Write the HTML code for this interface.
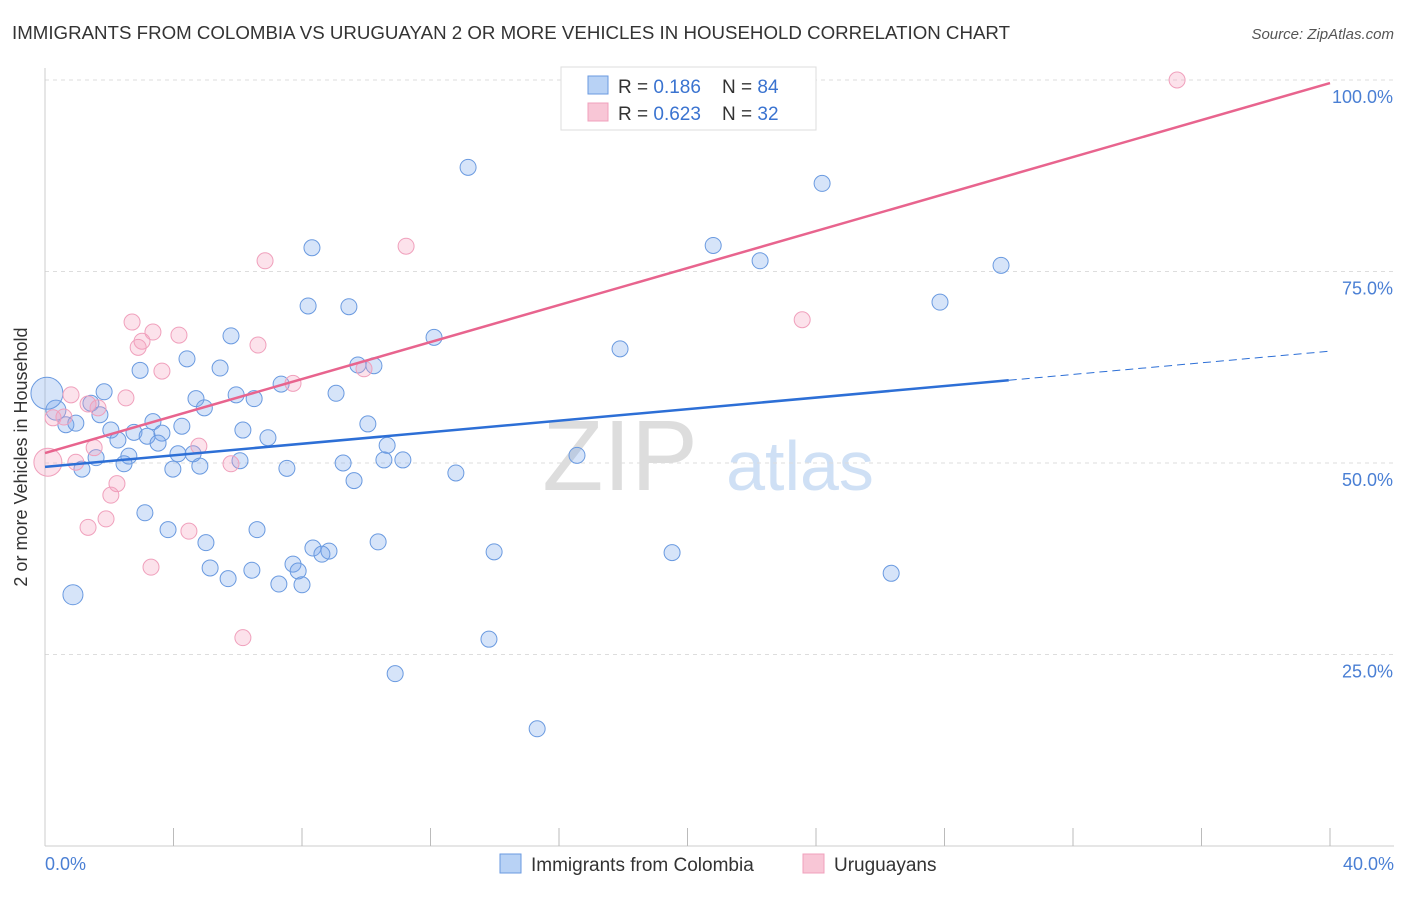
<!DOCTYPE html>
<html><head><meta charset="utf-8"><style>
body{margin:0;background:#fff;font-family:"Liberation Sans",sans-serif;}
svg text{font-family:"Liberation Sans",sans-serif;}
</style></head><body>
<svg id="chart" width="1406" height="892">
<text x="12" y="39" font-size="18" fill="#333" textLength="998" lengthAdjust="spacingAndGlyphs">IMMIGRANTS FROM COLOMBIA VS URUGUAYAN 2 OR MORE VEHICLES IN HOUSEHOLD CORRELATION CHART</text>
<text x="1394" y="39" font-size="15" fill="#555" font-style="italic" text-anchor="end">Source: ZipAtlas.com</text>
<text x="620" y="490" font-size="100" fill="#ddd" font-family="Liberation Serif" text-anchor="middle">ZIP</text>
<text x="800" y="490" font-size="70" fill="#cfe0f5" text-anchor="middle">atlas</text>
<g id="grid"></g>
<line x1="45" y1="68" x2="45" y2="846" stroke="#ccc"/>
<line x1="45" y1="846" x2="1394" y2="846" stroke="#ccc"/>
<g id="ticks"></g>
<text x="27" y="457" font-size="18" fill="#333" text-anchor="middle" transform="rotate(-90 27 457)">2 or more Vehicles in Household</text>
<text x="45" y="870" font-size="18" fill="#4a7fd4">0.0%</text>
<text x="1394" y="870" font-size="18" fill="#4a7fd4" text-anchor="end">40.0%</text>
<g id="pts"></g>
<g id="lines"></g>
<g>
<rect x="561" y="67" width="255" height="63" fill="#fff" stroke="#ddd"/>
<rect x="588" y="76" width="20" height="18" fill="#b8d2f5" stroke="#6a9ae0"/>
<rect x="588" y="103" width="20" height="18" fill="#f8c6d6" stroke="#f0a0bc"/>
<text x="618" y="93" font-size="19" fill="#333" xml:space="preserve">R = <tspan fill="#3a73d0">0.186</tspan>&#160;&#160;&#160;&#160;N = <tspan fill="#3a73d0">84</tspan></text>
<text x="618" y="120" font-size="19" fill="#333" xml:space="preserve">R = <tspan fill="#3a73d0">0.623</tspan>&#160;&#160;&#160;&#160;N = <tspan fill="#3a73d0">32</tspan></text>
</g>
<g>
<rect x="500" y="854" width="21" height="19" fill="#b8d2f5" stroke="#6a9ae0"/>
<text x="531" y="871" font-size="19" fill="#333">Immigrants from Colombia</text>
<rect x="803" y="854" width="21" height="19" fill="#f8c6d6" stroke="#f0a0bc"/>
<text x="834" y="871" font-size="19" fill="#333">Uruguayans</text>
</g>
</svg>
<script>
const yTicks=[25,50,75,100];
const yTickLabels=["25.0%","50.0%","75.0%","100.0%"];
const xTicks=[4,8,12,16,20,24,28,32,36,40];
const blueX=[13.17,24.19,20.8,8.31,22.26,29.76,27.86,8.19,9.46,5.79,12.11,17.9,4.42,9.74,10.24,2.96,5.45,7.35,1.84,9.06,5.95,4.7,6.51,1.43,4.96,1.71,0.34,0.06,0.65,0.96,3.36,10.05,2.05,4.26,6.16,2.77,3.64,3.18,6.94,2.27,3.52,10.65,4.14,4.61,2.61,1.59,16.56,6.07,10.55,11.14,2.46,9.28,3.98,4.82,7.53,1.15,12.79,9.62,3.11,3.83,6.6,5.01,10.37,8.34,13.98,19.52,8.84,8.62,7.72,5.14,6.44,7.88,26.34,5.7,7.28,8.0,0.87,13.82,10.9,15.32];
const blueY=[88.6,86.5,78.4,78.1,76.4,75.8,71.0,70.5,70.4,66.6,66.4,64.9,63.6,62.8,62.7,62.1,62.4,60.3,59.3,59.1,58.9,58.4,58.4,57.8,57.2,56.3,56.9,59.1,55.0,55.2,55.4,55.1,54.3,54.8,54.3,54.0,53.9,53.5,53.3,53.0,52.6,52.3,51.2,51.2,50.9,50.7,51.0,50.3,50.4,50.4,49.9,50.0,49.2,49.6,49.3,49.2,48.7,47.7,43.5,41.3,41.3,39.6,39.7,38.9,38.4,38.3,38.5,38.1,36.8,36.3,36.0,35.9,35.6,34.9,34.2,34.1,32.8,27.0,22.5,15.3];
const blueR=[8,8,8,8,8,8,8,8,8,8,8,8,8,8,8,8,8,8,8,8,8,8,8,8,8,8,10,16,8,8,8,8,8,8,8,8,8,8,8,8,8,8,8,8,8,8,8,8,8,8,8,8,8,8,8,8,8,8,8,8,8,8,8,8,8,8,8,8,8,8,8,8,8,8,8,8,10,8,8,8];
const pinkX=[35.24,11.24,6.85,2.71,23.57,3.36,4.17,3.02,2.9,6.63,3.64,9.93,7.72,2.52,0.81,1.34,1.65,0.25,0.59,4.79,1.53,0.09,0.96,5.79,2.24,2.05,1.9,1.34,4.48,3.3,6.16];
const pinkY=[100,78.3,76.4,68.4,68.7,67.1,66.7,65.9,65.1,65.4,62.0,62.3,60.4,58.5,58.9,57.7,57.2,55.9,56.0,52.2,52.0,50.1,50.1,49.9,47.3,45.8,42.7,41.6,41.1,36.4,27.2];
const pinkR=[8,8,8,8,8,8,8,8,8,8,8,8,8,8,8,8,8,8,8,8,8,14,8,8,8,8,8,8,8,8,8];
const blueLine=[0,49.5,30,60.8,40,64.6];
const pinkLine=[0,51.3,40,99.6];
const X=v=>45+v*1285/40, Y=v=>463-(v-50)*7.66;
const NS="http://www.w3.org/2000/svg";
function mk(t,a,p){const e=document.createElementNS(NS,t);for(const k in a)e.setAttribute(k,a[k]);document.getElementById(p).appendChild(e);return e;}
yTicks.forEach((v,i)=>{
 const l=mk('line',{x1:45,x2:1394,y1:Y(v),y2:Y(v),stroke:'#ddd','stroke-dasharray':'4,4'},'grid');
 
 
 const t=mk('text',{x:1393,y:Y(v)+23,'font-size':18,fill:'#4a7fd4','text-anchor':'end'},'grid');
 t.textContent=yTickLabels[i];
 
 
});
xTicks.forEach(v=>{
 const l=mk('line',{x1:X(v),x2:X(v),y1:828,y2:846,stroke:'#bbb'},'ticks');
 
 
});
blueX.forEach((v,i)=>{
 const c=mk('circle',{cx:X(v),cy:Y(blueY[i]),r:blueR[i],fill:'rgba(120,165,235,0.3)',stroke:'#6a9ae0','stroke-width':1},'pts');
 
 
});
pinkX.forEach((v,i)=>{
 const c=mk('circle',{cx:X(v),cy:Y(pinkY[i]),r:pinkR[i],fill:'rgba(245,160,190,0.3)',stroke:'#f0a0bc','stroke-width':1},'pts');
 
 
});
let b=mk('line',{x1:X(blueLine[0]),y1:Y(blueLine[1]),x2:X(blueLine[2]),y2:Y(blueLine[3]),stroke:'#2d6fd6','stroke-width':2.5},'lines');


let bd=mk('line',{x1:X(blueLine[2]),y1:Y(blueLine[3]),x2:X(blueLine[4]),y2:Y(blueLine[5]),stroke:'#2d6fd6','stroke-width':1,'stroke-dasharray':'8,5'},'lines');


let p=mk('line',{x1:X(pinkLine[0]),y1:Y(pinkLine[1]),x2:X(pinkLine[2]),y2:Y(pinkLine[3]),stroke:'#e8648e','stroke-width':2.5},'lines');


</script>
</body></html>
